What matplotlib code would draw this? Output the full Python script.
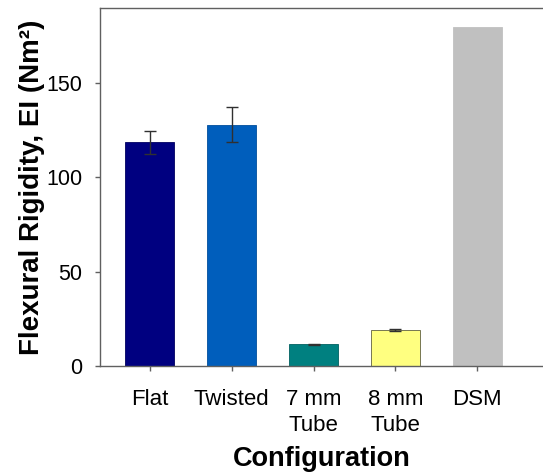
import matplotlib.pyplot as plt
import numpy as np

plt.rcParams['font.family'] = ['Liberation Sans', 'DejaVu Sans']

# data
configs = ['Flat', 'Twisted', '7 mm\nTube', '8 mm\nTube', 'DSM']
rigidity = [118.6, 128.0, 11.5, 19.1, 180.0]
errors = [6.2, 9.3, 0.4, 0.3, 0.0]
colors = ['#000080', '#005EBC', '#008080', '#FFFF80', '#C0C0C0']
edges = ['#000060', '#004E9C', '#006060', '#606040', '#C0C0C0']

fig = plt.figure(figsize=(5.43, 4.75), dpi=100)
ax = fig.add_axes([0.184, 0.2295, 0.816, 0.754])

x = np.arange(len(configs))
ax.bar(x, rigidity, width=0.6, color=colors, edgecolor=edges, linewidth=0.6, zorder=2)
ax.errorbar(x[:4], rigidity[:4], yerr=errors[:4], fmt='none', ecolor='#303030',
            elinewidth=1.0, capsize=4.3, capthick=1.0, zorder=3)

ax.set_xlim(-0.606, 4.8)
ax.set_ylim(0, 190)
ax.set_yticks([0, 50, 100, 150])
ax.set_xticks(x)
ax.set_xticklabels(configs, linespacing=1.3)

for s in ['left', 'top', 'bottom']:
    ax.spines[s].set_color('#606060')
    ax.spines[s].set_linewidth(1.0)
ax.spines['right'].set_visible(False)

ax.tick_params(axis='y', direction='out', length=3.6, width=1.0, color='#606060',
               labelsize=15.5, pad=9)
ax.tick_params(axis='x', direction='out', length=3.6, width=1.0, color='#606060',
               labelsize=16, pad=13)

ax.set_ylabel('Flexural Rigidity, EI (Nm²)', fontsize=20, fontweight='bold', labelpad=1)
ax.set_xlabel('Configuration', fontsize=19.5, fontweight='bold', labelpad=7)

fig.savefig('out.png', dpi=100)
